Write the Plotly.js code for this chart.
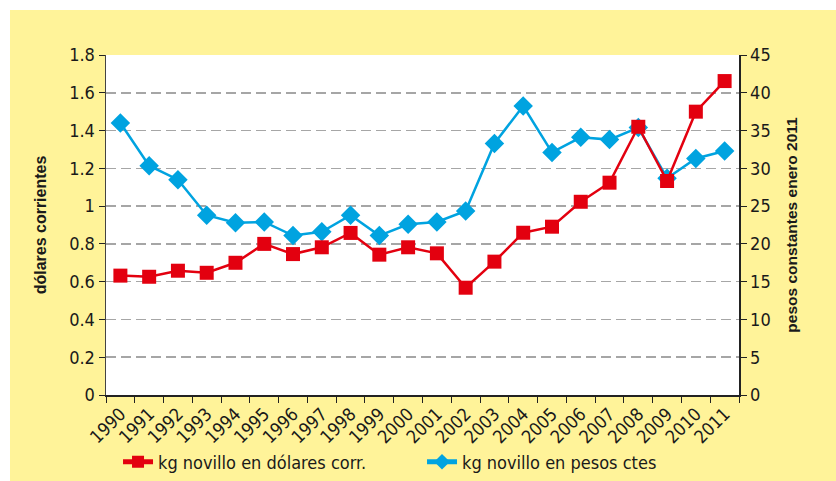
<!DOCTYPE html>
<html>
<head>
<meta charset="utf-8">
<script src="https://cdn.plot.ly/plotly-3.0.1.min.js"></script>
<style>
  html, body { margin: 0; padding: 0; background: #ffffff; }
  #chart { position: absolute; left: 10px; top: 10px; width: 826px; height: 471px; }
</style>
</head>
<body>
<div id="chart"></div>
<script>
const years = ["1990","1991","1992","1993","1994","1995","1996","1997","1998","1999","2000",
               "2001","2002","2003","2004","2005","2006","2007","2008","2009","2010","2011"];
const dolaresCorr = [0.632, 0.626, 0.658, 0.647, 0.70, 0.80, 0.746, 0.782, 0.858, 0.743, 0.782,
                     0.75, 0.568, 0.706, 0.859, 0.891, 1.023, 1.124, 1.42, 1.133, 1.50, 1.662];
const pesosCtes = [36.0, 30.35, 28.5, 23.8, 22.8, 22.9, 21.1, 21.6, 23.8, 21.1, 22.6,
                   22.9, 24.35, 33.3, 38.25, 32.1, 34.1, 33.8, 35.4, 28.7, 31.3, 32.3];
const leftTicks = [0, 0.2, 0.4, 0.6, 0.8, 1, 1.2, 1.4, 1.6, 1.8];
const leftTickText = ["0","0.2","0.4","0.6","0.8","1","1.2","1.4","1.6","1.8"];
const rightTicks = [0, 5, 10, 15, 20, 25, 30, 35, 40, 45];

const RED = '#e3000f';
const BLUE = '#00a3e0';
const NARROW = '"DejaVu Sans Condensed", "Liberation Sans Narrow", sans-serif';
const tickFont = { family: NARROW, size: 18, color: '#1a1a1a' };

const traces = [
  {
    x: years, y: pesosCtes, yaxis: 'y', type: 'scatter', mode: 'lines+markers',
    name: 'kg novillo en pesos ctes', legendrank: 2,
    line: { color: BLUE, width: 2.5 },
    marker: { symbol: 'diamond', size: 15, color: BLUE }
  },
  {
    x: years, y: dolaresCorr, yaxis: 'y2', type: 'scatter', mode: 'lines+markers',
    name: 'kg novillo en dólares corr.', legendrank: 1,
    line: { color: RED, width: 2.5 },
    marker: { symbol: 'square', size: 14, color: RED }
  }
];

const layout = {
  width: 826, height: 471,
  paper_bgcolor: '#fff399',
  plot_bgcolor: '#ffffff',
  margin: { l: 96, r: 97, t: 45, b: 86, autoexpand: false },
  showlegend: true,
  legend: {
    orientation: 'h', x: 0.019, xanchor: 'left', y: -0.197, yanchor: 'middle',
    bgcolor: 'rgba(0,0,0,0)', entrywidth: 259, entrywidthmode: 'pixels',
    itemsizing: 'constant',
    font: { family: NARROW, size: 18, color: '#1a1a1a' }
  },
  xaxis: {
    type: 'category', tickson: 'boundaries', ticks: 'outside', ticklen: 6, tickcolor: '#222',
    tickangle: -45, tickfont: tickFont, showline: true, linecolor: '#222', linewidth: 1.5,
    showgrid: false, zeroline: false, range: [-0.5, 21.5], automargin: false
  },
  yaxis: {
    side: 'right', range: [0, 45], tickvals: rightTicks, ticks: 'outside', ticklen: 6,
    tickcolor: '#222', tickfont: tickFont, showline: true, linecolor: '#222', linewidth: 1.5,
    showgrid: true, gridcolor: '#a6a6a6', gridwidth: 1.5, griddash: '10px,5px',
    zeroline: false, automargin: false,
    title: { text: '<b>pesos constantes enero 2011</b>', standoff: 16,
             font: { family: 'Arial, "Liberation Sans", sans-serif', size: 15.5, color: '#1a1a1a' } }
  },
  yaxis2: {
    side: 'left', overlaying: 'y', range: [0, 1.8], tickvals: leftTicks, ticktext: leftTickText,
    ticks: 'outside', ticklen: 6, tickcolor: '#222', tickfont: tickFont,
    showline: true, linecolor: '#444', linewidth: 1.5, showgrid: false, zeroline: false, automargin: false,
    title: { text: '<b>dólares corrientes</b>', standoff: 18,
             font: { family: 'Arial, "Liberation Sans", sans-serif', size: 16, color: '#1a1a1a' } }
  }
};

Plotly.newPlot('chart', traces, layout, { displayModeBar: false, staticPlot: true });
</script>
</body>
</html>
